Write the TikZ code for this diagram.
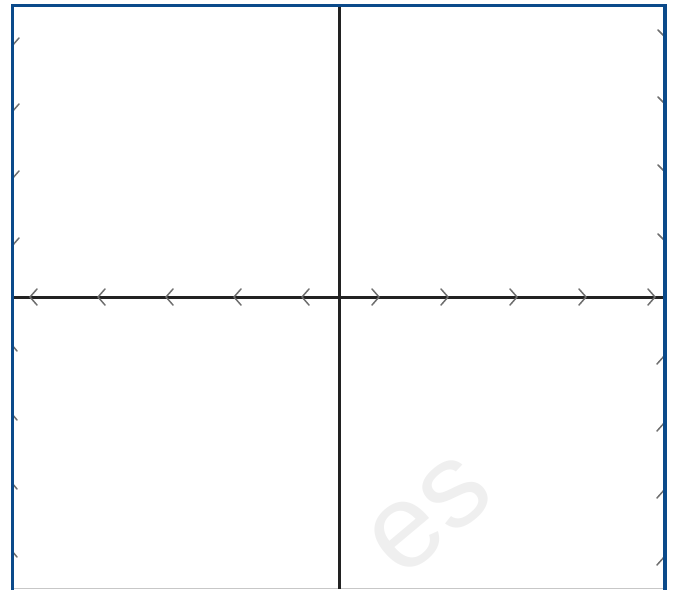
\documentclass[tikz,border=0pt]{standalone}
\usepackage{fontspec}
\setsansfont{Liberation Sans}
\definecolor{frameblue}{HTML}{0B4A8A}
\definecolor{axisgray}{HTML}{222222}
\definecolor{fieldgray}{HTML}{6E6E6E}
\definecolor{wmgray}{HTML}{EFEFEF}
\begin{document}
\begin{tikzpicture}[x=1pt,y=-1pt,
  axisline/.style={draw=axisgray,line width=3pt},
  field/.style={draw=fieldgray,line width=1.5pt,line cap=round,line join=round},
  frameline/.style={draw=frameblue,line width=3.4pt}]
\useasboundingbox (0,0) rectangle (676,589);
% watermark
\node[text=wmgray,rotate=40,font=\sffamily\fontsize{120}{120}\selectfont] (wm) at (430,515) {es};
% bottom light line
\draw[draw=black!22,line width=1pt] (14,588) -- (664,588);
% axes
\coordinate (xl) at (12,297);
\coordinate (xr) at (665,297);
\coordinate (yt) at (339,5);
\coordinate (yb) at (339,589);
\draw[axisline] (xl) -- (xr);
\draw[axisline] (yt) -- (yb);
% chevrons along x axis
\foreach \t in {30,98,166,234,302}{
  \draw[field] (\t+7,289) -- (\t,297) -- (\t+7,305);
}
\foreach \t in {379,448,517,586,655}{
  \draw[field] (\t-7,289) -- (\t,297) -- (\t-7,305);
}
% slope marks at left edge
\foreach \y in {41,107,174,241}{
  \draw[field] (12,\y+5) -- (19,\y-3);
}
\foreach \y in {349,418,487,555}{
  \draw[field] (12,\y-4) -- (17,\y+2);
}
% slope marks at right edge
\foreach \y in {33,100,168,237}{
  \draw[field] (658,\y-3) -- (665,\y+4);
}
\foreach \y in {359,426,493,560}{
  \draw[field] (657,\y+5) -- (665,\y-4);
}
% frame
\draw[frameline] (12.5,591) -- (12.5,5.5) -- (665,5.5) -- (665,591);
\end{tikzpicture}
\end{document}
